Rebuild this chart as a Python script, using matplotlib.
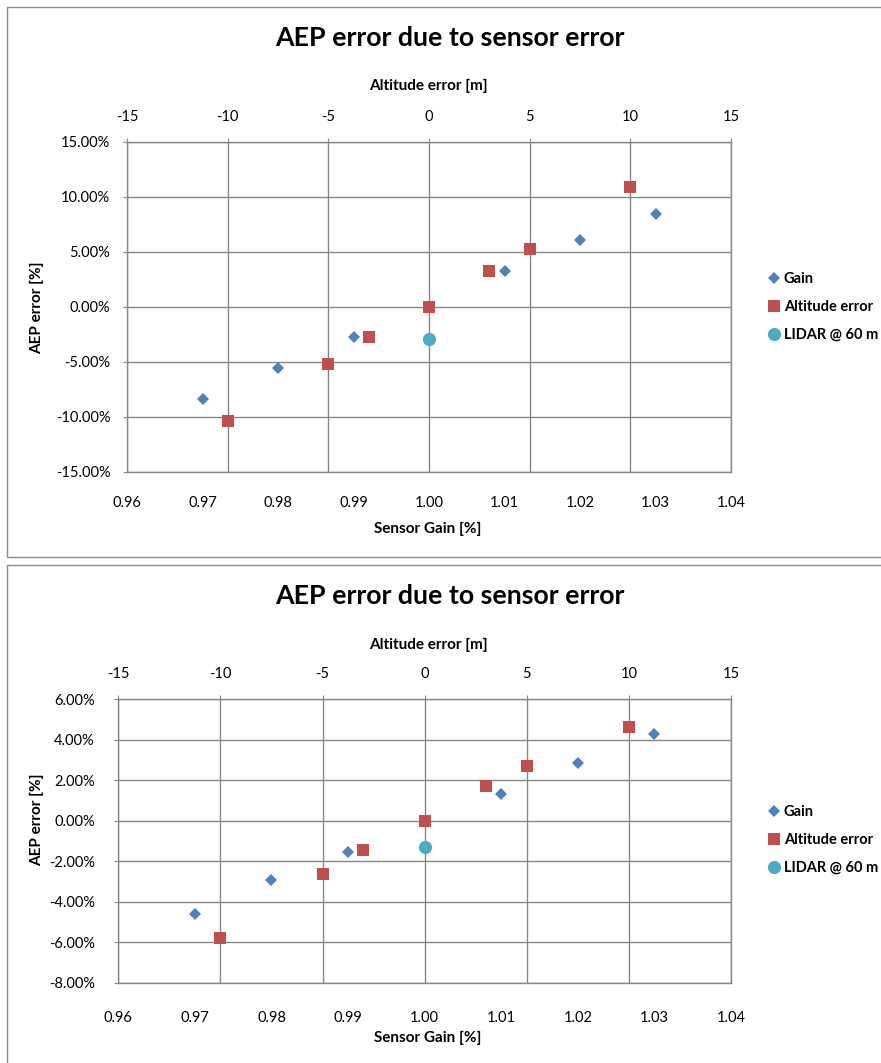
import matplotlib
matplotlib.use("Agg")
import matplotlib.pyplot as plt
from matplotlib.ticker import FuncFormatter, MultipleLocator
from matplotlib.patches import Rectangle

# ---- data ----
gain_x = [0.97, 0.98, 0.99, 1.01, 1.02, 1.03]
alt_x = [-10, -5, -3, 0, 3, 5, 10]
lidar_x = [1.00]

top_gain_y = [-8.36, -5.57, -2.78, 3.22, 6.04, 8.43]
top_alt_y = [-10.36, -5.18, -2.78, 0.0, 3.24, 5.27, 10.88]
top_lidar_y = [-2.91]

bot_gain_y = [-4.59, -2.94, -1.54, 1.34, 2.87, 4.27]
bot_alt_y = [-5.81, -2.65, -1.43, 0.0, 1.72, 2.70, 4.62]
bot_lidar_y = [-1.31]

title = "AEP error due to sensor error"
legend_labels = ["Gain", "Altitude error", "LIDAR @ 60 m"]

C_GAIN = "#4F81BD"
C_ALT = "#C0504D"
C_LIDAR = "#4BACC6"
GRID = "#878787"
FONT = "Lato"

W, H = 881, 1063
plt.rcParams["font.family"] = [FONT, "DejaVu Sans"]
fig = plt.figure(figsize=(W / 100, H / 100), dpi=100)


def fx(px):
    return px / W


def fy(py):
    return 1 - py / H


# outer chart boxes
for (y0, y1) in [(7, 557), (565, 1070)]:
    fig.patches.append(Rectangle((fx(7), fy(y1)), fx(890) - fx(7), fy(y0) - fy(y1),
                                 transform=fig.transFigure, fill=False,
                                 edgecolor="#8c8c8c", linewidth=1.0))


def panel(box, ylim, ystep, gy, ay, ly, title_y, alt_lab_y, alt_pad,
          gain_pad, gain_lab_y, ylab_y, legend_y, ypad):
    x0, x1, y0, y1 = box
    # primary axes: altitude (top), carries the grid
    ax = fig.add_axes([fx(x0), fy(y1), fx(x1) - fx(x0), fy(y0) - fy(y1)])
    ax2 = ax.twiny()
    ax.set_xlim(-15, 15)
    ax.set_ylim(*ylim)
    ax.xaxis.set_major_locator(MultipleLocator(5))
    ax.yaxis.set_major_locator(MultipleLocator(ystep))
    ax.grid(True, color=GRID, linewidth=1.0)
    ax.set_axisbelow(True)
    ax.yaxis.set_major_formatter(FuncFormatter(lambda v, p: f"{v:.2f}%"))
    ax.xaxis.set_major_formatter(FuncFormatter(lambda v, p: f"{v:g}"))
    for s in ax.spines.values():
        s.set_color(GRID)
        s.set_linewidth(1.0)
    h_alt, = ax.plot(alt_x, ay, linestyle="none", marker="s", markersize=8.5,
                     color=C_ALT, markeredgewidth=0, zorder=3)

    # secondary: sensor gain (bottom)
    ax2.set_xlim(0.96, 1.04)
    ax2.xaxis.set_major_locator(MultipleLocator(0.01))
    ax2.xaxis.set_major_formatter(FuncFormatter(lambda v, p: f"{v:.2f}"))
    for s in ax2.spines.values():
        s.set_visible(False)
    h_gain, = ax2.plot(gain_x, gy, linestyle="none", marker="D", markersize=6.2,
                       color=C_GAIN, markeredgewidth=0, zorder=3)
    h_lid, = ax2.plot(lidar_x, ly, linestyle="none", marker="o", markersize=9.5,
                      color=C_LIDAR, markeredgewidth=0, zorder=3)

    # tick placement after twin creation
    ax.xaxis.tick_top()
    ax.tick_params(axis="x", top=True, bottom=False, labeltop=True, labelbottom=False,
                   length=3, color=GRID, labelsize=10.5, pad=alt_pad)
    ax.tick_params(axis="y", length=3, color=GRID, labelsize=10.5, pad=ypad)
    ax2.xaxis.tick_bottom()
    ax2.tick_params(axis="x", top=False, bottom=False, labeltop=False, labelbottom=True,
                    labelsize=10.5, pad=gain_pad)

    fig.text(fx(450), fy(title_y), title, ha="center", va="center",
             fontsize=19.3, fontweight="bold", family=FONT)
    fig.text(fx(428), fy(alt_lab_y), "Altitude error [m]", ha="center", va="center",
             fontsize=11, fontweight="bold", family=FONT)
    fig.text(fx(428), fy(gain_lab_y), "Sensor Gain [%]", ha="center", va="center",
             fontsize=11, fontweight="bold", family=FONT)
    fig.text(fx(37), fy(ylab_y), "AEP error [%]", ha="center", va="center",
             rotation=90, fontsize=11, fontweight="bold", family=FONT)

    fig.legend([h_gain, h_alt, h_lid], legend_labels, loc="center left",
               bbox_to_anchor=(fx(770), fy(legend_y)), frameon=False,
               handlelength=0.6, handletextpad=0.35,
               labelspacing=0.95, borderpad=0, borderaxespad=0,
               prop={"family": FONT, "weight": "bold", "size": 10.5})


panel((127, 731, 141.7, 471.7), (-15, 15), 5, top_gain_y, top_alt_y, top_lidar_y,
      title_y=38, alt_lab_y=86, alt_pad=10, gain_pad=14,
      gain_lab_y=529, ylab_y=308, legend_y=307, ypad=9)

panel((118.3, 731, 699.3, 982.7), (-8, 6), 2, bot_gain_y, bot_alt_y, bot_lidar_y,
      title_y=596, alt_lab_y=645, alt_pad=10, gain_pad=17,
      gain_lab_y=1038, ylab_y=820, legend_y=840, ypad=14)

fig.savefig("out.png", dpi=100)
